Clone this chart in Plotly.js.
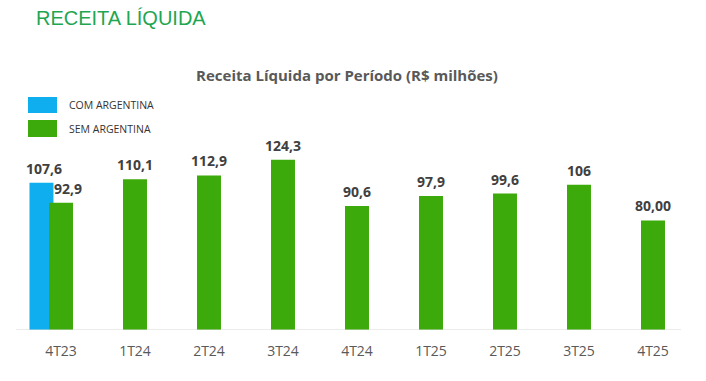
<!DOCTYPE html>
<html>
<head>
<meta charset="utf-8">
<script src="https://cdn.plot.ly/plotly-3.0.1.min.js"></script>
<style>
html,body{margin:0;padding:0;background:#fff;}
#chart{width:706px;height:381px;}
</style>
</head>
<body>
<div id="chart"></div>
<script>
// ---- data ----
const periods = ["4T23","1T24","2T24","3T24","4T24","1T25","2T25","3T25","4T25"];
const semArgentina = [92.9, 110.1, 112.9, 124.3, 90.6, 97.9, 99.6, 106, 80.00];
const semLabels = ["92,9","110,1","112,9","124,3","90,6","97,9","99,6","106","80,00"];
const comArgentinaPeriods = ["4T23"];
const comArgentina = [107.6];
const comLabels = ["107,6"];

// ---- layout constants (pixels) ----
const W = 706, H = 381;
const mL = 24, mR = 16, mT = 152, mB = 51;
const plotW = W - mL - mR, plotH = H - mT - mB;
const yMax = 130;
const barW = 0.324;
const blueShift = -0.264;
const px2x = p => (p - mL) / plotW;
const px2y = p => (H - mB - p) / plotH;

const BLUE = "#0FAEEF", GREEN = "#3DAA0B";

const traces = [
  {
    type: "bar", name: "COM ARGENTINA",
    x: comArgentinaPeriods, y: comArgentina,
    width: barW, offset: -barW/2 + blueShift,
    marker: {color: BLUE}, hoverinfo: "skip", showlegend: false
  },
  {
    type: "bar", name: "SEM ARGENTINA",
    x: periods, y: semArgentina,
    width: barW, offset: -barW/2,
    marker: {color: GREEN}, hoverinfo: "skip", showlegend: false
  }
];

const labelFont = {family: "Open Sans, Noto Sans, sans-serif", size: 14, color: "#404040", weight: "bold"};
const annotations = [];
semArgentina.forEach((v, i) => {
  annotations.push({
    xref: "x", yref: "y", x: periods.indexOf(periods[i]), y: v,
    text: "<b>" + semLabels[i] + "</b>", showarrow: false,
    yanchor: "bottom", yshift: 3, xshift: (i === 0 ? 7 : 0), font: labelFont
  });
});
comArgentina.forEach((v, i) => {
  annotations.push({
    xref: "x", yref: "y", x: periods.indexOf(comArgentinaPeriods[i]) + blueShift, y: v,
    text: "<b>" + comLabels[i] + "</b>", showarrow: false,
    yanchor: "bottom", yshift: 3, xshift: 3, font: labelFont
  });
});
// header
annotations.push({
  xref: "paper", yref: "paper", x: px2x(34), y: px2y(18),
  xanchor: "left", yanchor: "middle", showarrow: false,
  text: "RECEITA LÍQUIDA",
  font: {family: "Liberation Sans, Arial, sans-serif", size: 20, color: "#1FA650"}
});
// legend texts
const legendItems = [
  {text: "COM ARGENTINA", color: BLUE, y0: 97, y1: 113},
  {text: "SEM ARGENTINA", color: GREEN, y0: 120, y1: 137}
];
const shapes = [];
legendItems.forEach(it => {
  shapes.push({type: "rect", xref: "paper", yref: "paper",
    x0: px2x(28), x1: px2x(57), y0: px2y(it.y1), y1: px2y(it.y0),
    fillcolor: it.color, line: {width: 0}});
  annotations.push({xref: "paper", yref: "paper", x: px2x(67), y: px2y((it.y0 + it.y1)/2),
    xanchor: "left", yanchor: "middle", showarrow: false, text: it.text,
    font: {family: "Open Sans, Noto Sans, sans-serif", size: 10.5, color: "#333333"}});
});
// baseline
shapes.push({type: "line", xref: "paper", yref: "y", x0: px2x(16), x1: px2x(681), y0: 0, y1: 0,
  line: {color: "#D9D9D9", width: 1}});

const layout = {
  width: W, height: H,
  margin: {l: mL, r: mR, t: mT, b: mB, pad: 0},
  paper_bgcolor: "#ffffff", plot_bgcolor: "#ffffff",
  barmode: "overlay",
  title: {
    text: "<b>Receita Líquida por Período (R$ milhões)</b>",
    x: 347/W, xanchor: "center", y: 1 - 76/H, yanchor: "middle",
    font: {family: "Open Sans, Noto Sans, sans-serif", size: 15, color: "#595959"}
  },
  xaxis: {
    type: "category", range: [-0.5, 8.5], fixedrange: true,
    showgrid: false, zeroline: false, showline: false,
    ticks: "outside", ticklen: 8, tickcolor: "rgba(0,0,0,0)",
    tickfont: {family: "Open Sans, Noto Sans, sans-serif", size: 14, color: "#595959"}
  },
  yaxis: {
    range: [0, yMax], visible: false, fixedrange: true
  },
  annotations: annotations,
  shapes: shapes,
  showlegend: false
};

Plotly.newPlot("chart", traces, layout, {displayModeBar: false, staticPlot: true});
</script>
</body>
</html>
